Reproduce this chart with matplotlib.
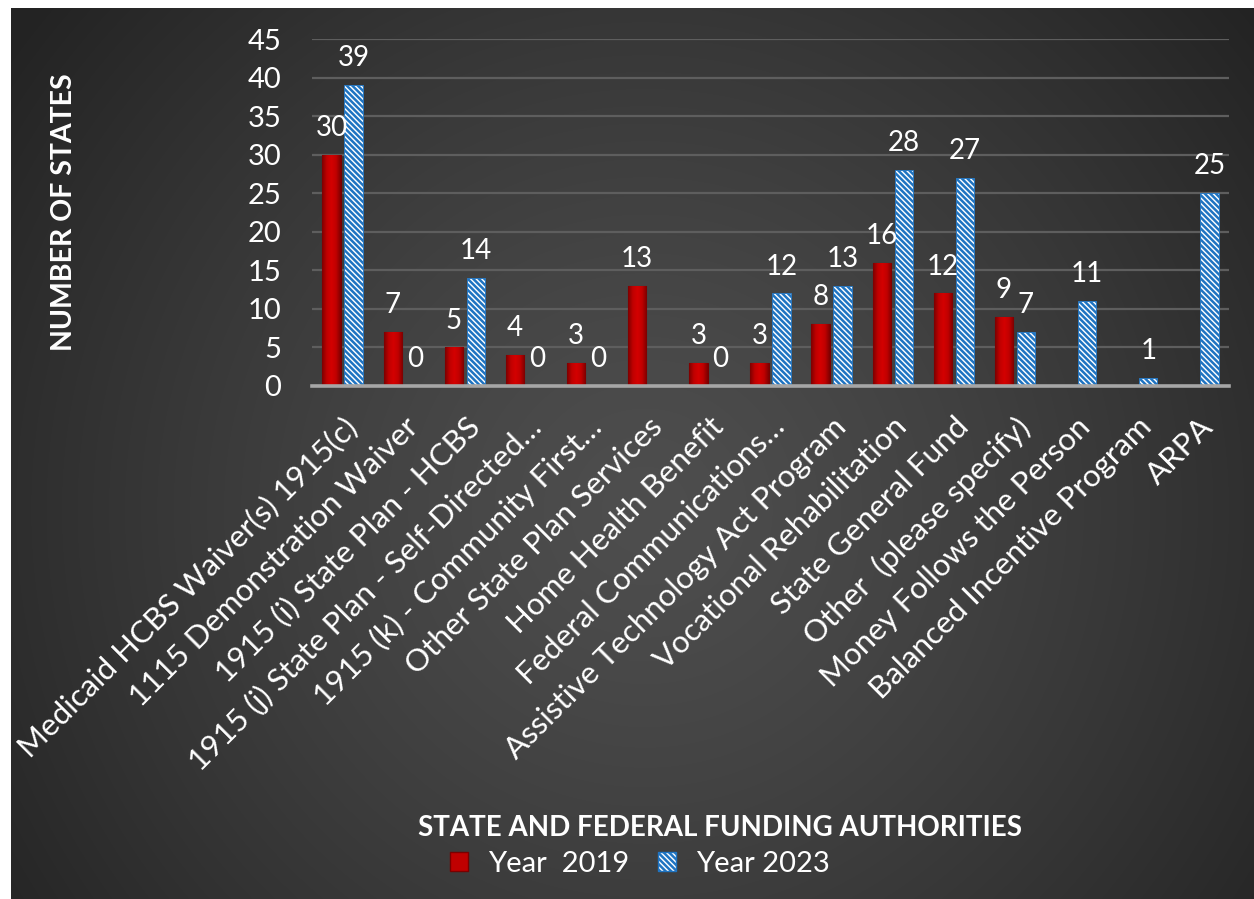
import numpy as np
import matplotlib
matplotlib.use("Agg")
import matplotlib.pyplot as plt
from matplotlib.patches import Patch
from matplotlib.colors import LinearSegmentedColormap

categories = [
    "Medicaid HCBS Waiver(s) 1915(c)",
    "1115 Demonstration Waiver",
    "1915 (i) State Plan - HCBS",
    "1915 (j) State Plan - Self-Directed…",
    "1915 (k) - Community First…",
    "Other State Plan Services",
    "Home Health Benefit",
    "Federal Communications…",
    "Assistive Technology Act Program",
    "Vocational Rehabilitation",
    "State General Fund",
    "Other  (please specify)",
    "Money Follows the Person",
    "Balanced Incentive Program",
    "ARPA",
]
year2019 = [30, 7, 5, 4, 3, 13, 3, 3, 8, 16, 12, 9, np.nan, np.nan, np.nan]
year2023 = [39, 0, 14, 0, 0, np.nan, 0, 12, 13, 28, 27, 7, 11, 1, 25]
series_names = ["Year  2019", "Year 2023"]
yticks = [0, 5, 10, 15, 20, 25, 30, 35, 40, 45]

FONT = "Lato"
plt.rcParams["font.family"] = [FONT, "DejaVu Sans"]
plt.rcParams["hatch.linewidth"] = 1.8

HATCH = "\\\\\\\\\\\\"
RED = "#C00000"
BLUE = "#1F74C2"

W, H = 1254, 899
fig = plt.figure(figsize=(W / 100, H / 100), dpi=100, facecolor="white")

# background radial gradient
bx0, by0 = 11, 8
bg = fig.add_axes([bx0 / W, 0, 1 - bx0 / W, 1 - by0 / H], zorder=-10)
bw, bh = W - bx0, H - by0
yy, xx = np.mgrid[0:bh, 0:bw]
cx, cy = 645 - bx0, 510 - by0
r = np.sqrt((xx - cx) ** 2 + (yy - cy) ** 2) / 790.0
v = 0x4e - (0x4e - 0x23) * np.clip(r, 0, 1) ** 1.3
v = np.clip(v, 0x20, 0x4e) / 255.0
img = np.dstack([v, v, v])
bg.imshow(img, aspect="auto", interpolation="bilinear")
bg.set_axis_off()

# main axes
left, right = 312 / W, 1229 / W
bottom, top = 1 - 386 / H, 1 - 39 / H
ax = fig.add_axes([left, bottom, right - left, top - bottom])
ax.set_facecolor("none")
x = np.arange(len(categories))
bw_ = 0.30
off = 0.18
red_bars = ax.bar(x - off, year2019, width=bw_, color=RED,
                  edgecolor="#7a0000", linewidth=0.8, zorder=3)
ax.bar(x + off, year2023, width=bw_, color="white",
       edgecolor=BLUE, hatch=HATCH, linewidth=0.6, zorder=3)

# cylindrical shading on red bars (clipped to each bar)
red_cmap = LinearSegmentedColormap.from_list(
    "redshade", ["#7d0000", "#c00000", "#d40000", "#c00000", "#7d0000"])
grad = np.linspace(0, 1, 64).reshape(1, -1)
for p in red_bars.patches:
    h = p.get_height()
    if not np.isfinite(h) or h <= 0:
        continue
    x0 = p.get_x()
    im = ax.imshow(grad, cmap=red_cmap, aspect="auto", zorder=3.5,
                   extent=(x0, x0 + p.get_width(), 0, h), interpolation="bilinear")
    im.set_clip_path(p)

for xs, vals in ((x - off, year2019), (x + off, year2023)):
    for xi, vi in zip(xs, vals):
        if np.isnan(vi):
            continue
        ax.annotate(f"{int(vi)}", (xi, vi), xytext=(0, 10), textcoords="offset points",
                    ha="center", va="bottom", color="white", fontsize=20, zorder=5)

ax.set_xlim(-0.5, len(categories) - 0.5)
ax.set_ylim(0, 45)
ax.set_yticks(yticks)
ax.set_yticklabels([str(t) for t in yticks])
ax.yaxis.grid(True, color="#5e5e5e", linewidth=1.6, zorder=0)
ax.set_axisbelow(True)
for s in ["top", "right", "left"]:
    ax.spines[s].set_visible(False)
ax.spines["bottom"].set_color("#a6a6a6")
ax.spines["bottom"].set_linewidth(2.6)
ax.spines["bottom"].set_zorder(4)
ax.tick_params(axis="y", length=0, pad=22, labelsize=21, labelcolor="white")
ax.tick_params(axis="x", length=0, pad=19, labelsize=22.5, labelcolor="white")
ax.set_xticks(x)
ax.set_xticklabels(categories, rotation=45, ha="right", va="top",
                   rotation_mode="anchor")

fig.text(720 / W, 1 - 828 / H, "STATE AND FEDERAL FUNDING AUTHORITIES",
         ha="center", va="center", color="white", fontsize=20, fontweight="bold")
fig.text(64.5 / W, 1 - 212 / H, "NUMBER OF STATES", rotation=90,
         ha="center", va="center", color="white", fontsize=20.5, fontweight="bold")

handles = [Patch(facecolor=RED, edgecolor="#7a0000"),
           Patch(facecolor="white", edgecolor=BLUE, hatch=HATCH)]
fig.legend(handles, series_names, loc="center", bbox_to_anchor=(640 / W, 1 - 864 / H),
           ncol=2, frameon=False, fontsize=21, labelcolor="white",
           handlelength=0.6, handleheight=0.6, handletextpad=0.7,
           columnspacing=1.0)

fig.savefig("out.png", dpi=100, facecolor="white")
